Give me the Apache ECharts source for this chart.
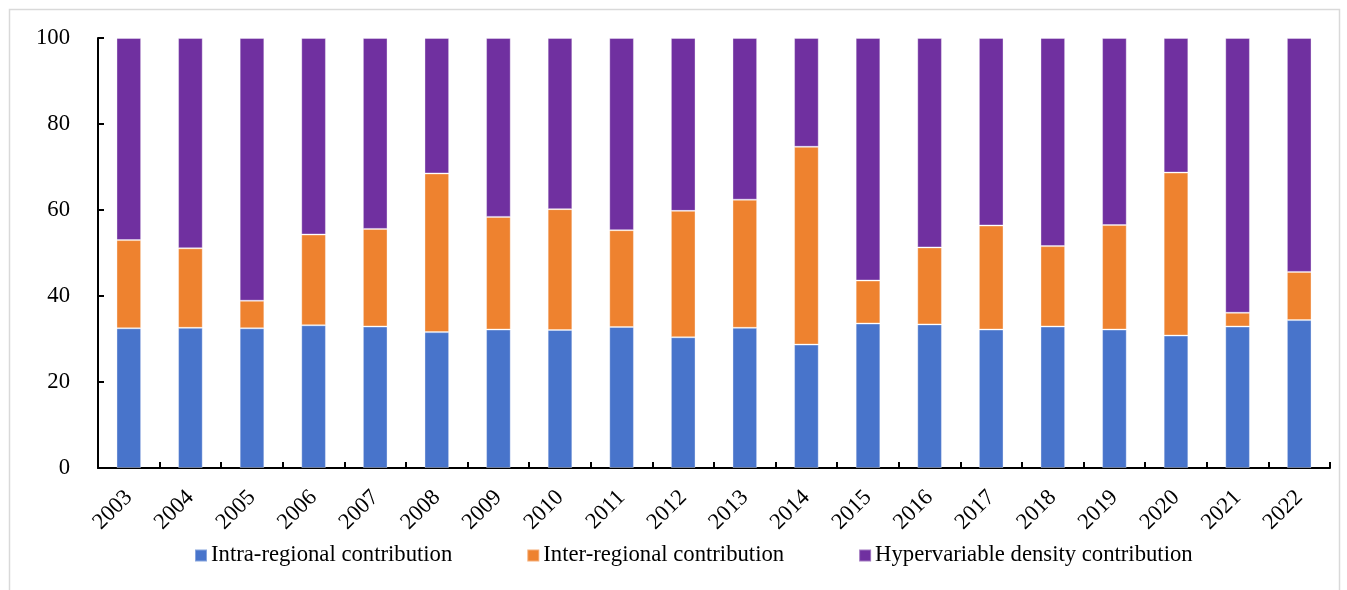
<!DOCTYPE html>
<html>
<head>
<meta charset="utf-8">
<script src="https://cdn.jsdelivr.net/npm/echarts@6/dist/echarts.min.js"></script>
<style>
  html, body { margin: 0; padding: 0; background: #fff; }
  #chart { width: 1347px; height: 590px; }
</style>
</head>
<body>
<div id="chart"></div>
<script>
// Years on the category axis
const years = ['2003','2004','2005','2006','2007','2008','2009','2010','2011','2012',
               '2013','2014','2015','2016','2017','2018','2019','2020','2021','2022'];

// Contribution shares (%) of each component, stacked to 100
const intraRegional = [32.5,32.6,32.5,33.2,32.9,31.6,32.2,32.1,32.8,30.4,
                       32.6,28.7,33.6,33.4,32.2,32.9,32.2,30.8,32.9,34.4];
const interRegional = [20.5,18.5,6.4,21.1,22.7,36.9,26.2,28.1,22.5,29.4,
                       29.8,46.0,10.0,17.9,24.2,18.7,24.3,37.9,3.2,11.2];
const hypervariable = [47.0,48.9,61.1,45.7,44.4,31.5,41.6,39.8,44.7,40.2,
                       37.6,25.3,56.4,48.7,43.6,48.4,43.5,31.3,63.9,54.4];

const seriesNames = ['Intra-regional contribution', 'Inter-regional contribution', 'Hypervariable density contribution'];
const seriesColors = ['#4874cb', '#ee822f', '#7030a0'];
const seriesData = [intraRegional, interRegional, hypervariable];

const serif = '"Liberation Serif", "Times New Roman", serif';
const fontSize = 22.7;

const chart = echarts.init(document.getElementById('chart'), null, { renderer: 'canvas' });

chart.setOption({
  animation: false,
  backgroundColor: '#fff',
  graphic: [{
    type: 'rect',
    shape: { x: 9.5, y: 9.5, width: 1330, height: 600 },
    style: { fill: 'none', stroke: '#d9d9d9', lineWidth: 1.5 },
    silent: true
  }],
  grid: { left: 98, right: 17, top: 38, bottom: 122, containLabel: false },
  legend: {
    top: 539,
    left: 189,
    itemWidth: 12,
    itemHeight: 12,
    itemGap: 74,
    icon: 'rect',
    textStyle: { fontFamily: serif, fontSize: fontSize, color: '#000', padding: [0, 0, 0, -1] },
    data: seriesNames
  },
  xAxis: {
    type: 'category',
    data: years,
    axisLine: { lineStyle: { color: '#000', width: 2 } },
    axisTick: { show: true, inside: true, length: 6, lineStyle: { color: '#000', width: 2 }, alignWithLabel: false },
    axisLabel: { rotate: 45, margin: 26, fontFamily: serif, fontSize: fontSize, color: '#000', interval: 0 }
  },
  yAxis: {
    type: 'value',
    min: 0,
    max: 100,
    interval: 20,
    splitLine: { show: false },
    axisLine: { show: true, lineStyle: { color: '#000', width: 2 } },
    axisTick: { show: true, inside: true, length: 6, lineStyle: { color: '#000', width: 2 } },
    axisLabel: { margin: 28, fontFamily: serif, fontSize: fontSize, color: '#000' }
  },
  series: seriesNames.map((name, i) => ({
    name: name,
    type: 'bar',
    stack: 'total',
    barWidth: '40%',
    data: seriesData[i],
    itemStyle: { color: seriesColors[i], borderColor: 'rgba(255,255,255,0.35)', borderWidth: 1 }
  }))
});
</script>
</body>
</html>
